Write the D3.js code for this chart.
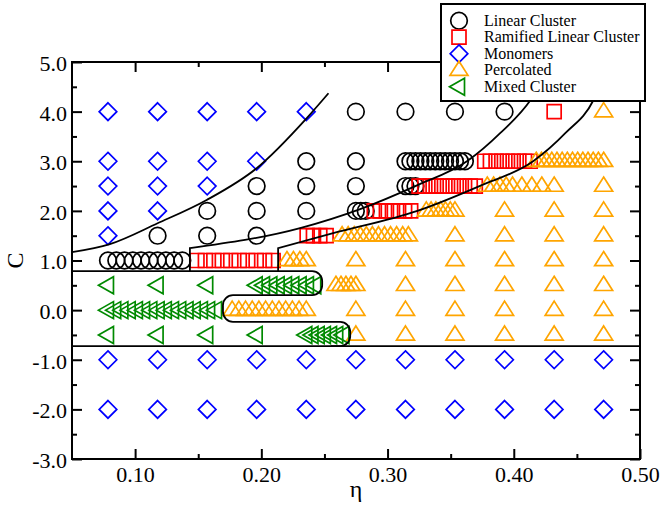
<!DOCTYPE html>
<html>
<head>
<meta charset="utf-8">
<script src="https://cdn.jsdelivr.net/npm/d3@7"></script>
<style>
  body { margin: 0; background: #fff; }
  svg { display: block; }
</style>
</head>
<body>
<div id="phase_chart"></div>
<script>
// ---- data (eta, C) ----
const etaTicks = [0.10, 0.20, 0.30, 0.40, 0.50];
const etaMinor = [0.15, 0.25, 0.35, 0.45];
const cTicks = [-3, -2, -1, 0, 1, 2, 3, 4, 5];
const cMinor = [-2.5, -1.5, -0.5, 0.5, 1.5, 2.5, 3.5, 4.5];

const seriesNames = ["Linear Cluster", "Ramified Linear Cluster", "Monomers", "Percolated", "Mixed Cluster"];

// each row: [C, [eta values]]
const linearRows = [
  [4.0, [0.2749, 0.3142, 0.3534, 0.3927]],
  [3.0, [0.2356, 0.2749, 0.3142, 0.3181, 0.3221, 0.3260, 0.3299, 0.3338, 0.3378, 0.3417, 0.3456, 0.3495, 0.3534, 0.3574, 0.3613]],
  [2.5, [0.1963, 0.2356, 0.2749, 0.3142, 0.3181, 0.3221]],
  [2.0, [0.1571, 0.1963, 0.2356, 0.2749, 0.2788, 0.2827]],
  [1.5, [0.1178, 0.1571, 0.1963]],
  [1.0, [0.0785, 0.0851, 0.0916, 0.0982, 0.1047, 0.1113, 0.1178, 0.1244, 0.1309, 0.1374]]
];
const ramifiedRows = [
  [4.0, [0.4320]],
  [3.0, [0.3770, 0.3815, 0.3860, 0.3905, 0.3950, 0.3995, 0.4040, 0.4085, 0.4130]],
  [2.5, [0.3250, 0.3295, 0.3340, 0.3385, 0.3430, 0.3475, 0.3520, 0.3565, 0.3610, 0.3655, 0.3695]],
  [2.0, [0.2895, 0.2943, 0.2991, 0.3039, 0.3087, 0.3135, 0.3183]],
  [1.5, [0.2363, 0.2413, 0.2463, 0.2513]],
  [1.0, [0.1490, 0.1557, 0.1624, 0.1691, 0.1758, 0.1825, 0.1892, 0.1959, 0.2026, 0.2093]]
];
const monomerRows = [
  [4.0, [0.0785, 0.1178, 0.1571, 0.1963, 0.2356]],
  [3.0, [0.0785, 0.1178, 0.1571, 0.1963]],
  [2.5, [0.0785, 0.1178, 0.1571]],
  [2.0, [0.0785, 0.1178]],
  [1.5, [0.0785]],
  [-1.0, [0.0785, 0.1178, 0.1571, 0.1963, 0.2356, 0.2749, 0.3142, 0.3534, 0.3927, 0.4320, 0.4712]],
  [-2.0, [0.0785, 0.1178, 0.1571, 0.1963, 0.2356, 0.2749, 0.3142, 0.3534, 0.3927, 0.4320, 0.4712]]
];
const percolatedRows = [
  [4.0, [0.4712]],
  [3.0, [0.4178, 0.4219, 0.4260, 0.4301, 0.4342, 0.4383, 0.4424, 0.4465, 0.4506, 0.4547, 0.4588, 0.4629, 0.4670, 0.4712]],
  [2.5, [0.3790, 0.3840, 0.3890, 0.3940, 0.3990, 0.4064, 0.4143, 0.4222, 0.4320, 0.4712]],
  [2.0, [0.3307, 0.3345, 0.3383, 0.3421, 0.3459, 0.3497, 0.3534, 0.3927, 0.4320, 0.4712]],
  [1.5, [0.2640, 0.2688, 0.2736, 0.2784, 0.2832, 0.2880, 0.2928, 0.2976, 0.3024, 0.3072, 0.3120, 0.3165, 0.3534, 0.3927, 0.4320, 0.4712]],
  [1.0, [0.2203, 0.2254, 0.2305, 0.2356, 0.2749, 0.3142, 0.3534, 0.3927, 0.4320, 0.4712]],
  [0.5, [0.2591, 0.2631, 0.2670, 0.2710, 0.2749, 0.3142, 0.3534, 0.3927, 0.4320, 0.4712]],
  [0.0, [0.1769, 0.1822, 0.1875, 0.1928, 0.1981, 0.2034, 0.2087, 0.2140, 0.2193, 0.2246, 0.2299, 0.2356, 0.2749, 0.3142, 0.3534, 0.3927, 0.4320, 0.4712]],
  [-0.5, [0.2749, 0.3142, 0.3534, 0.3927, 0.4320, 0.4712]]
];
const mixedRows = [
  [0.5, [0.0785, 0.1178, 0.1571, 0.1963, 0.2021, 0.2079, 0.2137, 0.2195, 0.2253, 0.2311, 0.2369, 0.2427]],
  [0.0, [0.0785, 0.0842, 0.0899, 0.0957, 0.1014, 0.1071, 0.1128, 0.1186, 0.1243, 0.1300, 0.1357, 0.1415, 0.1472, 0.1529, 0.1586, 0.1641]],
  [-0.5, [0.0785, 0.1178, 0.1571, 0.1963, 0.2356, 0.2405, 0.2454, 0.2503, 0.2552, 0.2601, 0.2650]]
];

// boundaries (eta, C)
const monomerBoundary = [[0.05, 1.17], [0.08, 1.33], [0.1178, 1.75], [0.1567, 2.22], [0.1963, 2.86], [0.236, 3.87], [0.2532, 4.37]];
const ramifiedBoundary = [[0.1434, 0.786], [0.1434, 1.25], [0.2307, 1.653], [0.2783, 2.036], [0.322, 2.5], [0.3632, 3.004], [0.3894, 3.57], [0.4133, 4.234], [0.42, 4.5]];
const percolatedBoundary = [[0.2133, 0.786], [0.2133, 1.25], [0.2569, 1.55], [0.3236, 2.0], [0.3728, 2.5], [0.4156, 3.004], [0.441, 3.57], [0.4632, 4.234], [0.468, 4.5]];
const mixedOutline = [[0.05, 0.786], [0.2482, 0.786], [0.2482, 0.302], [0.1696, 0.302], [0.1696, -0.236], [0.2704, -0.236], [0.2704, -0.726], [0.255, -0.726]];
const bottomBoundary = [[0.05, -0.726], [0.5, -0.726]];

// ---- layout ----
const FONT = "'Liberation Serif', 'DejaVu Serif', 'Times New Roman', serif";
const W = 663, H = 509;
const margin = {top: 62, right: 23, bottom: 50, left: 72};
const width = W - margin.left - margin.right,
      height = H - margin.top - margin.bottom;

const svg = d3.select("#phase_chart")
  .append("svg")
    .attr("width", W)
    .attr("height", H)
    .attr("font-family", FONT);

const g = svg.append("g")
    .attr("transform", "translate(" + margin.left + "," + margin.top + ")");

const x = d3.scaleLinear().domain([0.05, 0.5]).range([0, width]);
const y = d3.scaleLinear().domain([-3, 5]).range([height, 0]);

// tick labels with a plain hyphen for negatives, like the original
const fmtC = function(d) { return d3.format(".1f")(d).replace("\u2212", "-"); };

// axes: inward ticks on all four sides
function styleAxis(sel) {
  sel.attr("font-family", FONT).attr("font-size", 22);
  sel.select(".domain").remove();
  sel.selectAll("line").attr("stroke", "#000").attr("stroke-width", 2);
  sel.selectAll("text").attr("fill", "#000");
}

g.append("g").attr("transform", "translate(0," + height + ")")
  .call(d3.axisBottom(x).tickValues(etaTicks).tickSizeInner(-10).tickSizeOuter(0).tickFormat(d3.format(".2f")))
  .call(styleAxis)
  .selectAll("text").attr("y", 23).attr("dy", null);
g.append("g").attr("transform", "translate(0," + height + ")")
  .call(d3.axisBottom(x).tickValues(etaMinor).tickSizeInner(-5).tickSizeOuter(0).tickFormat(""))
  .call(styleAxis);
g.append("g")
  .call(d3.axisTop(x).tickValues(etaTicks).tickSizeInner(-10).tickSizeOuter(0).tickFormat(""))
  .call(styleAxis);
g.append("g")
  .call(d3.axisTop(x).tickValues(etaMinor).tickSizeInner(-5).tickSizeOuter(0).tickFormat(""))
  .call(styleAxis);

g.append("g")
  .call(d3.axisLeft(y).tickValues(cTicks).tickSizeInner(-10).tickSizeOuter(0).tickFormat(fmtC))
  .call(styleAxis)
  .selectAll("text").attr("x", -5).attr("dy", "0.38em");
g.append("g")
  .call(d3.axisLeft(y).tickValues(cMinor).tickSizeInner(-5).tickSizeOuter(0).tickFormat(""))
  .call(styleAxis);
g.append("g").attr("transform", "translate(" + width + ",0)")
  .call(d3.axisRight(y).tickValues(cTicks).tickSizeInner(-10).tickSizeOuter(0).tickFormat(""))
  .call(styleAxis);
g.append("g").attr("transform", "translate(" + width + ",0)")
  .call(d3.axisRight(y).tickValues(cMinor).tickSizeInner(-5).tickSizeOuter(0).tickFormat(""))
  .call(styleAxis);

// markers
function symbolPath(kind) {
  if (kind === "circle") {
    const p = d3.path(); p.moveTo(8.3, 0); p.arc(0, 0, 8.3, 0, 2 * Math.PI); p.closePath();
    return p.toString();
  }
  if (kind === "square") return "M-7,-7H7V7H-7Z";
  if (kind === "diamond") return "M0,-8.8L8.8,0L0,8.8L-8.8,0Z";
  if (kind === "up") return "M0,-9L9,5.2L-9,5.2Z";
  return "M-9.5,0L5.5,-8.5L5.5,8.5Z";
}

const series = [
  {rows: linearRows, kind: "circle", color: "#000000"},
  {rows: ramifiedRows, kind: "square", color: "#ff0000"},
  {rows: monomerRows, kind: "diamond", color: "#0000ff"},
  {rows: percolatedRows, kind: "up", color: "#ffa500"},
  {rows: mixedRows, kind: "left", color: "#008a00"}
];

series.forEach(function(s) {
  const pts = [];
  s.rows.forEach(function(r) { r[1].forEach(function(e) { pts.push([e, r[0]]); }); });
  g.append("g").selectAll("path")
    .data(pts)
    .enter()
    .append("path")
      .attr("d", symbolPath(s.kind))
      .attr("transform", function(d) { return "translate(" + x(d[0]) + "," + y(d[1]) + ")"; })
      .attr("fill", "none")
      .attr("stroke", s.color)
      .attr("stroke-width", 1.7);
});

// boundary lines
const curveLine = d3.line()
  .x(function(d) { return x(d[0]); })
  .y(function(d) { return y(d[1]); })
  .curve(d3.curveMonotoneX);

function stepCurve(pts) {
  // vertical step, then a smooth curve
  return "M" + x(pts[0][0]) + "," + y(pts[0][1]) + curveLine(pts.slice(1)).replace(/^M/, "L");
}

function roundedPath(pts, r) {
  const p = d3.path();
  const px = pts.map(function(d) { return [x(d[0]), y(d[1])]; });
  p.moveTo(px[0][0], px[0][1]);
  for (let i = 1; i < px.length - 1; i++) {
    p.arcTo(px[i][0], px[i][1], px[i + 1][0], px[i + 1][1], r);
  }
  p.lineTo(px[px.length - 1][0], px[px.length - 1][1]);
  return p.toString();
}

const lines = g.append("g")
  .attr("fill", "none")
  .attr("stroke", "#000")
  .attr("stroke-width", 1.8);

lines.append("path").attr("d", curveLine(monomerBoundary));
lines.append("path").attr("d", stepCurve(ramifiedBoundary));
lines.append("path").attr("d", stepCurve(percolatedBoundary));
lines.append("path").attr("d", roundedPath(mixedOutline, 10));
lines.append("path").attr("d", d3.line().x(function(d) { return x(d[0]); }).y(function(d) { return y(d[1]); })(bottomBoundary));

// frame
g.append("rect")
  .attr("width", width)
  .attr("height", height)
  .attr("fill", "none")
  .attr("stroke", "#000")
  .attr("stroke-width", 2);

// axis titles
svg.append("text")
  .attr("transform", "translate(23," + (margin.top + height / 2) + ")rotate(-90)")
  .attr("text-anchor", "middle")
  .attr("font-size", 24)
  .text("C");
svg.append("text")
  .attr("x", margin.left + width / 2)
  .attr("y", 497)
  .attr("text-anchor", "middle")
  .attr("font-size", 24)
  .text("η");

// legend
const legend = svg.append("g").attr("transform", "translate(441,4)");
legend.append("rect")
  .attr("width", 204)
  .attr("height", 97)
  .attr("fill", "#fff")
  .attr("stroke", "#000")
  .attr("stroke-width", 2);
series.forEach(function(s, i) {
  const row = legend.append("g").attr("transform", "translate(18," + (16.7 + i * 16.5) + ")");
  row.append("path")
    .attr("d", symbolPath(s.kind))
    .attr("fill", "none")
    .attr("stroke", s.color)
    .attr("stroke-width", 1.7);
  row.append("text")
    .attr("x", 25)
    .attr("dy", "0.33em")
    .attr("font-size", 16)
    .text(seriesNames[i]);
});
</script>
</body>
</html>
